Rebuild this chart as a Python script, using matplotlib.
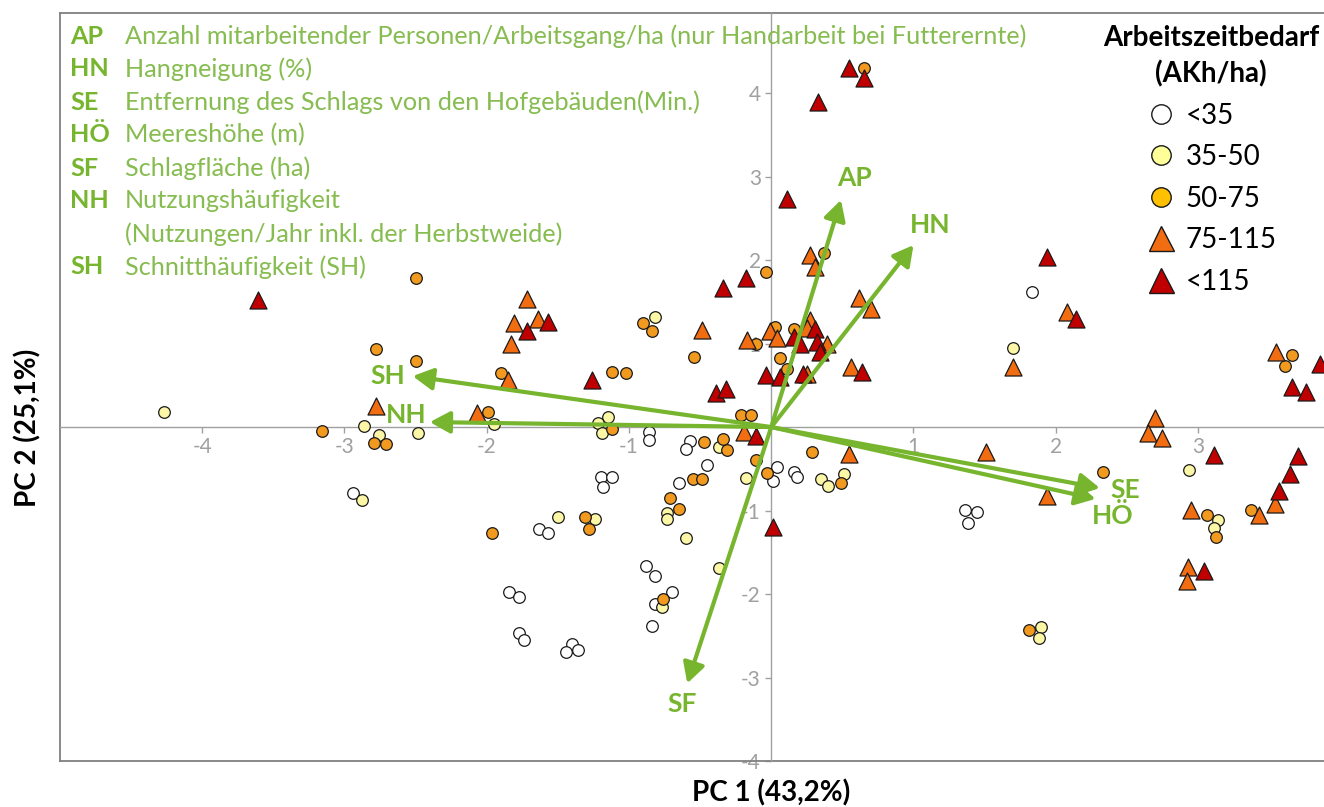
import matplotlib
matplotlib.use('Agg')
import matplotlib.pyplot as plt
from matplotlib.lines import Line2D

plt.rcParams['font.family'] = ['Lato', 'DejaVu Sans']
plt.rcParams['axes.unicode_minus'] = False

# Kategorien Arbeitszeitbedarf (AKh/ha)
kategorien = ['<35', '35-50', '50-75', '75-115', '<115']

# Scores PC1 / PC2 je Kategorie
weiss_x = [1.83, -0.86, -0.86, -0.57, -0.60, -0.45, 0.04, 0.16, 0.18, 0.01,
           -1.20, -1.12, -1.18, -0.65, -1.63, -1.57, -0.88, -0.82, -1.84, -1.77,
           -0.70, -0.82, -0.84, -1.77, -1.74, -1.40, -1.44, -1.36, -2.94, 1.36,
           1.45, 1.38]
weiss_y = [1.62, -0.06, -0.16, -0.17, -0.26, -0.46, -0.48, -0.54, -0.60, -0.64,
           -0.60, -0.60, -0.72, -0.67, -1.22, -1.27, -1.67, -1.78, -1.98, -2.04,
           -1.98, -2.12, -2.38, -2.47, -2.55, -2.60, -2.70, -2.67, -0.79, -0.99,
           -1.02, -1.15]

gelb_x = [-0.82, -1.15, -1.22, -1.19, -0.37, -0.18, 0.35, 0.40, 0.51, -1.95,
          -4.27, -2.86, -2.76, -2.48, -2.88, -1.50, -1.24, -0.73, -0.73, -0.60,
          -0.37, -0.77, 1.70, 2.94, 3.14, 3.11, 1.90, 1.88]
gelb_y = [1.32, 0.12, 0.05, -0.07, -0.24, -0.61, -0.62, -0.71, -0.56, 0.04,
          0.18, 0.01, -0.10, -0.07, -0.87, -1.08, -1.10, -1.03, -1.10, -1.33,
          -1.69, -2.16, 0.95, -0.52, -1.11, -1.21, -2.40, -2.53]

orange_x = [0.65, 0.37, -0.04, -0.11, 0.03, 0.16, 0.06, 0.11, -0.90, -0.84,
            -0.54, -1.90, -1.12, -1.02, -0.21, -0.14, -1.99, -1.12, -0.47, -0.34,
            -0.31, -0.11, 0.29, -0.03, 0.49, -0.55, -0.49, -0.71, -0.65, -0.76,
            -2.50, -2.78, -2.50, -3.16, -2.79, -2.71, -1.96, -1.31, -1.28, 2.33,
            3.66, 3.61, 3.37, 3.06, 3.13, 1.81]
orange_y = [4.30, 2.08, 1.86, 0.99, 1.20, 1.17, 0.83, 0.70, 1.25, 1.15,
            0.84, 0.65, 0.66, 0.65, 0.14, 0.14, 0.18, -0.02, -0.18, -0.14,
            -0.28, -0.40, -0.30, -0.55, -0.67, -0.62, -0.62, -0.85, -0.98, -2.06,
            1.78, 0.93, 0.79, -0.05, -0.19, -0.20, -1.27, -1.08, -1.22, -0.54,
            0.86, 0.73, -0.99, -1.05, -1.32, -2.43]

dreieck_o_x = [0.27, 0.31, 0.62, 0.70, -0.17, -0.01, 0.04, 0.27, 0.25, 0.39,
               0.25, 0.56, -0.49, -1.72, -1.81, -1.64, -1.83, -1.85, -2.07, -2.78,
               -0.19, 0.55, 1.51, 1.94, 1.70, 2.08, 2.70, 2.65, 2.75, 3.55,
               3.54, 3.43, 2.95, 2.93, 2.92]
dreieck_o_y = [2.06, 1.92, 1.55, 1.41, 1.04, 1.15, 1.07, 1.28, 1.19, 0.99,
               0.64, 0.72, 1.16, 1.53, 1.25, 1.29, 0.99, 0.56, 0.17, 0.25,
               -0.06, -0.32, -0.30, -0.83, 0.72, 1.38, 0.11, -0.07, -0.13, 0.90,
               -0.92, -1.05, -0.99, -1.68, -1.84]

dreieck_r_x = [0.55, 0.65, 0.33, 0.11, -0.34, -0.18, 1.94, 2.14, 0.16, 0.20,
               0.31, 0.32, 0.34, -0.04, 0.06, 0.22, 0.64, -1.72, -1.57, -1.26,
               -0.39, -0.32, -0.11, 0.01, -3.61, 3.86, 3.66, 3.76, 3.11, 3.70,
               3.65, 3.57, 3.04]
dreieck_r_y = [4.30, 4.18, 3.89, 2.73, 1.67, 1.78, 2.04, 1.29, 1.08, 0.99,
               1.17, 1.02, 0.90, 0.62, 0.60, 0.64, 0.66, 1.15, 1.26, 0.56,
               0.41, 0.46, -0.11, -1.20, 1.52, 0.75, 0.48, 0.42, -0.34, -0.35,
               -0.56, -0.77, -1.73]

# Ladungsvektoren
vek_namen = ['AP', 'HN', 'SE', 'HÖ', 'SF', 'NH', 'SH']
vek_x = [0.49, 1.00, 2.31, 2.28, -0.59, -2.40, -2.52]
vek_y = [2.72, 2.18, -0.73, -0.86, -3.07, 0.06, 0.61]

# Legende der Variablen
abk = ['AP', 'HN', 'SE', 'HÖ', 'SF', 'NH', '', 'SH']
beschreibung = ['Anzahl mitarbeitender Personen/Arbeitsgang/ha (nur Handarbeit bei Futterernte)',
                'Hangneigung (%)',
                'Entfernung des Schlags von den Hofgebäuden(Min.)',
                'Meereshöhe (m)',
                'Schlagfläche (ha)',
                'Nutzungshäufigkeit',
                '(Nutzungen/Jahr inkl. der Herbstweide)',
                'Schnitthäufigkeit (SH)']

xticks = [-4, -3, -2, -1, 1, 2, 3]
yticks = [-4, -3, -2, -1, 1, 2, 3, 4]

gruen = '#77B52E'
gruen_txt = '#86BC50'
grau = '#a0a0a0'
farben = ['#FFFFFF', '#FBF7A6', '#F29A20', '#F26C12', '#C00000']

W, H = 1324, 807
fig = plt.figure(figsize=(W / 100, H / 100), dpi=100)
ax = fig.add_axes([60 / W, 46 / H, 1264 / W, 748 / H])
ax.set_xlim(-5.0, 3.886)
ax.set_ylim(-4.0, 4.96)

# Achsen durch den Ursprung
for s in ['top', 'right']:
    ax.spines[s].set_visible(False)
ax.spines['left'].set_position(('data', 0))
ax.spines['bottom'].set_position(('data', 0))
for s in ['left', 'bottom']:
    ax.spines[s].set_color(grau)
    ax.spines[s].set_linewidth(1)
ax.set_xticks(xticks)
ax.set_yticks(yticks)
ax.tick_params(colors=grau, labelcolor=grau, labelsize=15, length=4, width=1)

# Rahmen (links, oben, unten)
rahmen = dict(color='#808080', lw=1.3, transform=ax.transAxes, clip_on=False)
ax.plot([0, 0], [0, 1], **rahmen)
ax.plot([0, 1], [1, 1], **rahmen)
ax.plot([0, 1], [0, 0], **rahmen)

# Punkte
kw = dict(edgecolors='#1a1a1a', linewidths=0.9, zorder=4)
ax.scatter(weiss_x, weiss_y, s=70, marker='o', c=farben[0], **kw)
ax.scatter(gelb_x, gelb_y, s=70, marker='o', c=farben[1], **kw)
ax.scatter(orange_x, orange_y, s=70, marker='o', c=farben[2], **kw)
ax.scatter(dreieck_o_x, dreieck_o_y, s=150, marker='^', c=farben[3], **kw)
ax.scatter(dreieck_r_x, dreieck_r_y, s=150, marker='^', c=farben[4], **kw)

# Vektoren
offsets = {'AP': (14, 22), 'HN': (17, 20), 'SE': (25, -2), 'HÖ': (17, -17),
           'SF': (-5, -21), 'NH': (-24, 7), 'SH': (-25, 0)}
for name, vx, vy in zip(vek_namen, vek_x, vek_y):
    ax.annotate('', xy=(vx, vy), xytext=(0, 0),
                arrowprops=dict(arrowstyle='-|>,head_length=0.55,head_width=0.3',
                                color=gruen, lw=3, mutation_scale=22,
                                shrinkA=0, shrinkB=0), zorder=5)
    ax.annotate(name, xy=(vx, vy), xytext=offsets[name], textcoords='offset pixels',
                ha='center', va='center', color=gruen, fontsize=19,
                fontweight='bold', zorder=6)

# Variablenbeschreibung oben links
for i, (a, b) in enumerate(zip(abk, beschreibung)):
    y = 1 - (36 + 33 * i) / H
    fig.text(70 / W, y, a, color=gruen, fontsize=18.2, fontweight='bold', va='center')
    fig.text(125 / W, y, b, color=gruen_txt, fontsize=18.2, va='center')

# Legende Arbeitszeitbedarf
marker = ['o', 'o', 'o', '^', '^']
leg_farben = ['#FFFFFF', '#FFFF99', '#FFC000', '#F26C12', '#C00000']
handles = [Line2D([], [], ls='none', marker=m, markersize=18 if m == '^' else 14,
                  markerfacecolor=f, markeredgecolor='#1a1a1a', markeredgewidth=1)
           for m, f in zip(marker, leg_farben)]
leg = ax.legend(handles, kategorien, title='Arbeitszeitbedarf\n(AKh/ha)',
                loc='upper center', bbox_to_anchor=(1211 / W, 1 - 25 / H),
                bbox_transform=fig.transFigure, frameon=False, fontsize=20,
                title_fontproperties={'weight': 'bold', 'size': 20},
                labelspacing=0.56, handletextpad=0.35, handlelength=1.1,
                borderaxespad=0, borderpad=0)
leg.get_title().set_multialignment('center')
leg.get_title().set_linespacing(1.4)
leg.set_zorder(7)

# Achsentitel
fig.text(771 / W, 1 - 793 / H, 'PC 1 (43,2%)', ha='center', va='center',
         fontsize=20, fontweight='bold')
fig.text(28 / W, 1 - 428 / H, 'PC 2 (25,1%)', ha='center', va='center',
         fontsize=20, fontweight='bold', rotation=90)

fig.savefig('out.png', dpi=100)
